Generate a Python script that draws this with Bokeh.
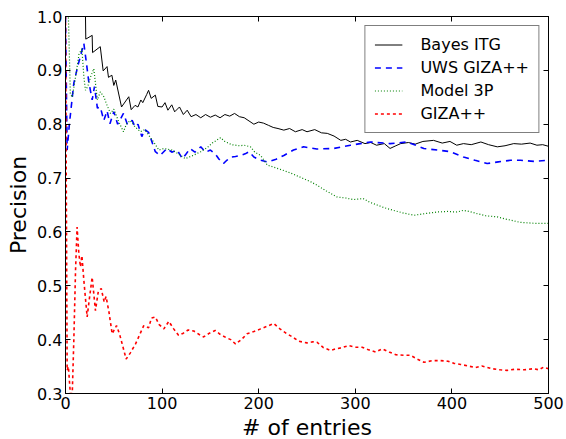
from bokeh.plotting import figure
from bokeh.models import LinearAxis, Legend, LegendItem, Range1d, FixedTicker
from bokeh.embed import file_html
from bokeh.resources import INLINE

# ---- data ----
bayes_x = [0, 20.7, 21, 27.6, 28, 36, 39, 43, 44.5, 48, 50, 52, 58, 65.5, 68, 72, 75, 78, 80, 84, 86, 88.7, 93, 95.6,
           100, 103, 106, 110, 113, 118, 122, 126, 130, 135, 140, 145, 150, 155, 160, 165, 170, 175, 180, 185, 190,
           195, 200, 205, 210, 215, 220, 226, 232, 238, 245, 250, 258, 265, 271, 278, 285, 290, 295, 302, 310, 316,
           322, 330, 336, 342, 347, 355, 362, 370, 381, 390, 398, 405, 412, 420, 430, 438, 447, 455, 464, 472, 481,
           488, 494, 500]
bayes_y = [1.0, 1.0, 0.958, 0.965, 0.933, 0.944, 0.899, 0.907, 0.887, 0.891, 0.872, 0.882, 0.832, 0.851, 0.827,
           0.835, 0.832, 0.845, 0.840, 0.855, 0.863, 0.848, 0.854, 0.833,
           0.832, 0.840, 0.826, 0.836, 0.823, 0.832, 0.818, 0.826, 0.814, 0.818, 0.812, 0.818, 0.813, 0.817, 0.812,
           0.818, 0.815, 0.820, 0.814, 0.812, 0.806, 0.800, 0.804, 0.802, 0.798, 0.794, 0.792, 0.789, 0.792, 0.786,
           0.790, 0.786, 0.790, 0.784, 0.783, 0.778, 0.770, 0.772, 0.767, 0.770, 0.764, 0.766, 0.761, 0.764, 0.755,
           0.760, 0.764, 0.766, 0.763, 0.768, 0.770, 0.765, 0.768, 0.761, 0.764, 0.762, 0.767, 0.762, 0.758, 0.760,
           0.764, 0.763, 0.765, 0.761, 0.762, 0.759]

uws_x = [0, 1.7, 4, 8.6, 13, 19, 21.7, 24, 27.6, 30, 33, 36, 39.7, 43, 46, 50, 54, 57, 60, 64, 69, 72, 75, 79, 82, 86,
         89, 93, 98, 105, 110, 115.6, 121, 125, 129, 134, 140, 145, 150, 155, 159, 163.6, 167, 171, 176, 181, 186,
         190, 195, 202, 209, 218, 226, 236, 246.5, 260, 277.6, 295, 315.7, 336, 353.7, 371, 385, 398.6, 412, 424,
         436.5, 448, 460.7, 471, 485, 500]
uws_y = [1.0, 0.752, 0.80, 0.876, 0.91, 0.95, 0.913, 0.88, 0.845, 0.87, 0.83, 0.832, 0.807, 0.825, 0.801, 0.823,
         0.80, 0.81, 0.82, 0.80, 0.807, 0.795, 0.80, 0.777, 0.79, 0.785, 0.77, 0.749, 0.742, 0.755, 0.748, 0.752,
         0.736, 0.745, 0.755, 0.748, 0.758, 0.748, 0.752, 0.745, 0.735, 0.727, 0.733, 0.739, 0.74, 0.742, 0.745,
         0.749, 0.739, 0.733, 0.730, 0.735, 0.742, 0.752, 0.758, 0.754, 0.755, 0.761, 0.767, 0.764, 0.767, 0.755,
         0.752, 0.749, 0.739, 0.733, 0.727, 0.730, 0.733, 0.733, 0.731, 0.733]

m3p_x = [1, 3, 4, 5, 7, 10.4, 14, 17, 19, 20.7, 23, 26, 29.3, 33, 36, 39.7, 43, 46.6, 50, 55, 60, 63, 67, 72, 77.6,
         82, 88, 92, 96.6, 102, 110, 117, 124, 132, 140, 147, 152, 160.5, 165, 172, 180, 185, 191.5, 196, 202, 209,
         216, 226, 235, 245, 254, 262, 270, 281, 290, 298, 308, 315, 322.6, 330, 339.5, 350, 361, 372, 385, 395,
         405, 412, 418, 426, 435, 447, 455, 460.7, 470, 485, 500]
m3p_y = [1.0, 1.0, 0.93, 0.857, 0.85, 0.888, 0.93, 0.94, 0.888, 0.863, 0.87, 0.888, 0.903, 0.845, 0.86, 0.851,
         0.835, 0.82, 0.828, 0.805, 0.786, 0.80, 0.807, 0.795, 0.786, 0.79, 0.775, 0.765, 0.752, 0.755, 0.752,
         0.745, 0.736, 0.742, 0.749, 0.757, 0.765, 0.775, 0.768, 0.762, 0.760, 0.761, 0.758, 0.748, 0.742, 0.724,
         0.72, 0.714, 0.708, 0.700, 0.693, 0.685, 0.676, 0.665, 0.663, 0.66, 0.662, 0.655, 0.650, 0.645, 0.640,
         0.635, 0.631, 0.634, 0.637, 0.638, 0.637, 0.640, 0.638, 0.634, 0.630, 0.628, 0.624, 0.622, 0.618, 0.616,
         0.616]

giza_x = [0, 1.7, 3, 5, 7, 8.6, 10.4, 12, 13.8, 15.5, 17, 19, 22.4, 25, 27.6, 31, 34, 37, 40, 42, 45, 48.3, 52.8,
          56, 62.8, 67, 72.5, 77, 81, 86, 89, 93, 97, 101.8, 107, 112, 117, 122, 127, 132.8, 138, 143, 149, 155,
          160, 166, 171, 176, 182, 188, 195, 202, 209, 215.6, 222, 229, 235, 241.5, 250, 256, 260.5, 267, 274.5,
          280, 286, 293, 300, 307, 314, 321, 328, 335, 342, 350, 357, 364, 371, 380, 388, 396, 402, 409, 417,
          424.4, 431, 441.5, 450, 457, 465, 475, 484.5, 490, 495, 500]
giza_y = [1.0, 0.343, 0.35, 0.30, 0.30, 0.398, 0.529, 0.609, 0.56, 0.535, 0.556, 0.51, 0.442, 0.48, 0.516, 0.454,
          0.49, 0.495, 0.47, 0.48, 0.451, 0.411, 0.426, 0.41, 0.364, 0.375, 0.392, 0.41, 0.426, 0.422, 0.44, 0.442,
          0.428, 0.42, 0.434, 0.42, 0.408, 0.412, 0.418, 0.416, 0.41, 0.405, 0.412, 0.417, 0.41, 0.404, 0.40,
          0.392, 0.40, 0.411, 0.415, 0.42, 0.425, 0.430, 0.42, 0.411, 0.405, 0.397, 0.394, 0.396, 0.395, 0.385,
          0.38, 0.383, 0.385, 0.389, 0.386, 0.386, 0.381, 0.377, 0.383, 0.377, 0.372, 0.371, 0.371, 0.364, 0.358,
          0.361, 0.361, 0.360, 0.356, 0.354, 0.351, 0.348, 0.351, 0.346, 0.344, 0.343, 0.345, 0.344, 0.346, 0.344,
          0.349, 0.346]

x_ticks = [0, 100, 200, 300, 400, 500]
y_ticks = [0.3, 0.4, 0.5, 0.6, 0.7, 0.8, 0.9, 1.0]
y_tick_labels = {0.3: "0.3", 0.4: "0.4", 0.5: "0.5", 0.6: "0.6", 0.7: "0.7", 0.8: "0.8", 0.9: "0.9", 1.0: "1.0"}

FONT = "DejaVu Sans"

p = figure(frame_width=483, frame_height=377, output_backend="svg", toolbar_location=None,
           x_range=Range1d(0, 500), y_range=Range1d(0.3, 1.0),
           min_border_left=65, min_border_right=18, min_border_top=16, min_border_bottom=46,
           x_axis_label="# of entries", y_axis_label="Precision")
p.grid.visible = False
p.outline_line_color = "black"
p.outline_line_width = 1
p.background_fill_color = "white"
p.border_fill_color = "white"

for ax in (p.xaxis[0], p.yaxis[0]):
    ax.major_tick_in = 5
    ax.major_tick_out = 0
    ax.minor_tick_line_color = None
    ax.axis_line_color = "black"
    ax.major_label_text_font = FONT
    ax.major_label_text_font_size = "16px"
    ax.major_label_text_color = "black"
    ax.axis_label_text_font = FONT
    ax.axis_label_text_font_size = "22px"
    ax.axis_label_text_font_style = "normal"
    ax.axis_label_text_color = "black"
    ax.major_label_standoff = 3

p.xaxis[0].ticker = FixedTicker(ticks=x_ticks)
p.yaxis[0].ticker = FixedTicker(ticks=y_ticks)
p.yaxis[0].major_label_overrides = y_tick_labels
p.xaxis[0].axis_label_standoff = 3
p.yaxis[0].axis_label_standoff = 3

top_ax = LinearAxis(ticker=FixedTicker(ticks=x_ticks), major_label_text_font_size="0px",
                    major_label_text_color=None,
                    major_tick_in=5, major_tick_out=0, minor_tick_line_color=None, major_label_standoff=0)
right_ax = LinearAxis(ticker=FixedTicker(ticks=y_ticks), major_label_text_font_size="0px",
                      major_label_text_color=None,
                      major_tick_in=5, major_tick_out=0, minor_tick_line_color=None, major_label_standoff=0)
p.add_layout(top_ax, "above")
p.add_layout(right_ax, "right")

r1 = p.line(bayes_x, bayes_y, line_color="black", line_width=1)
r2 = p.line(uws_x, uws_y, line_color="#0000ff", line_width=1.6, line_dash="6 5")
r3 = p.line(m3p_x, m3p_y, line_color="#008000", line_width=1.2, line_dash="1 2")
r4 = p.line(giza_x, giza_y, line_color="#ff0000", line_width=1.6, line_dash="3 3")

legend = Legend(items=[LegendItem(label="Bayes ITG", renderers=[r1]),
                       LegendItem(label="UWS GIZA++", renderers=[r2]),
                       LegendItem(label="Model 3P", renderers=[r3]),
                       LegendItem(label="GIZA++", renderers=[r4])],
                location="top_right", margin=9, padding=9, spacing=4,
                glyph_width=28, glyph_height=19, label_height=19, label_standoff=18,
                label_text_font=FONT, label_text_font_size="16px", label_text_color="black",
                border_line_color="black", border_line_width=1, background_fill_alpha=1)
p.add_layout(legend, "center")

open("out.html", "w").write(file_html(p, INLINE))
